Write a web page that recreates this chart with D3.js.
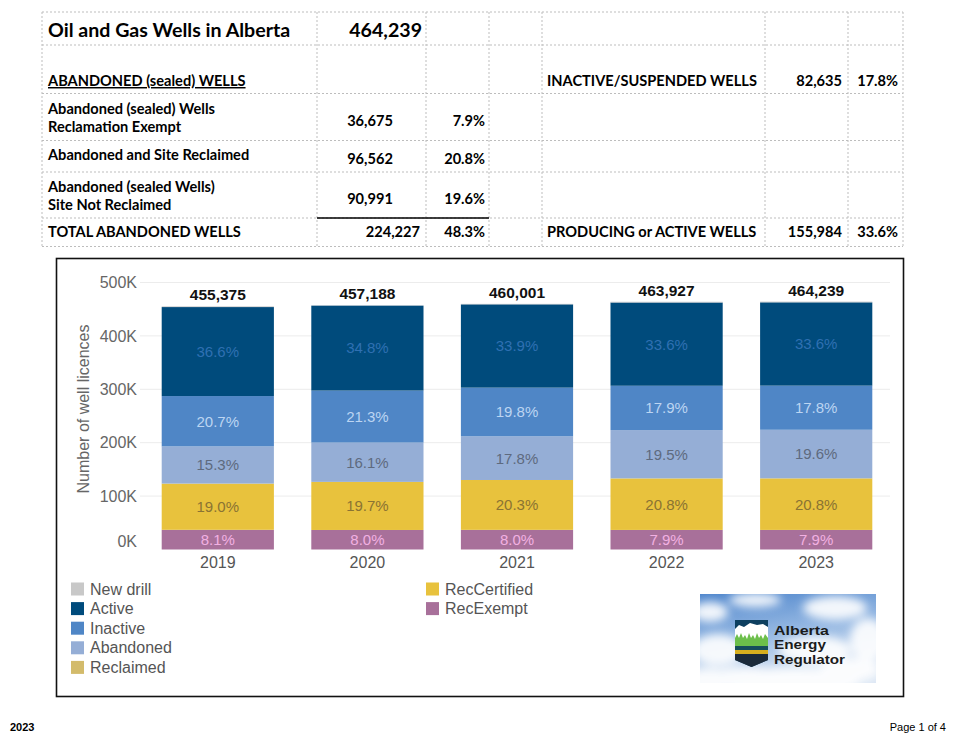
<!DOCTYPE html>
<html>
<head>
<meta charset="utf-8">
<script src="https://d3js.org/d3.v7.min.js"></script>
<style>
  body { margin: 0; background: #fff; }
  text { font-family: "Liberation Sans", Arial, sans-serif; }
  .tbl { font-family: Lato, "Liberation Sans", sans-serif; font-weight: bold; fill: #000; }
</style>
</head>
<body>
<div id="page"></div>
<script>
// ---- chart data ----
const years = ["2019", "2020", "2021", "2022", "2023"];
const totals = [455375, 457188, 460001, 463927, 464239];
const recExempt    = [36885, 36575, 36800, 36650, 36675];
const recCertified = [86521, 90066, 93380, 96497, 96562];
const reclaimed    = [0, 0, 0, 0, 0];
const abandoned    = [69672, 73607, 81880, 90466, 90991];
const inactive     = [94263, 97381, 91080, 83043, 82635];
const active       = [166667, 159101, 155940, 155880, 155984];
const newDrill     = [1367, 458, 921, 1391, 1392];

// percent labels shown in the bars
const pctRecExempt    = [8.1, 8.0, 8.0, 7.9, 7.9];
const pctRecCertified = [19.0, 19.7, 20.3, 20.8, 20.8];
const pctAbandoned    = [15.3, 16.1, 17.8, 19.5, 19.6];
const pctInactive     = [20.7, 21.3, 19.8, 17.9, 17.8];
const pctActive       = [36.6, 34.8, 33.9, 33.6, 33.6];

const yTicks = [0, 100000, 200000, 300000, 400000, 500000];

// legend order
const legendLeft = ["New drill", "Active", "Inactive", "Abandoned", "Reclaimed"];
const legendRight = ["RecCertified", "RecExempt"];

// ---- table data ----
const tableTitle = "Oil and Gas Wells in Alberta";
const tableTotal = "464,239";
const abandonedRows = [
  { label: ["Abandoned (sealed) Wells", "Reclamation Exempt"], value: "36,675", pct: "7.9%" },
  { label: ["Abandoned and Site Reclaimed"], value: "96,562", pct: "20.8%" },
  { label: ["Abandoned (sealed Wells)", "Site Not Reclaimed"], value: "90,991", pct: "19.6%" }
];
const totalAbandoned = { label: "TOTAL ABANDONED WELLS", value: "224,227", pct: "48.3%" };
const inactiveRow = { label: "INACTIVE/SUSPENDED WELLS", value: "82,635", pct: "17.8%" };
const producingRow = { label: "PRODUCING or ACTIVE WELLS", value: "155,984", pct: "33.6%" };

// colours
const colors = {
  "New drill": "#c8c8c8",
  "Active": "#004b7c",
  "Inactive": "#4f86c6",
  "Abandoned": "#95aed6",
  "Reclaimed": "#d3bb6b",
  "RecCertified": "#e8c23d",
  "RecExempt": "#a8709a"
};
const labelColors = {
  "Active": "#2f70b2",
  "Inactive": "#bcd5f2",
  "Abandoned": "#5e6a7e",
  "RecCertified": "#8a7333",
  "RecExempt": "#f2b0e2"
};

const W = 958, H = 743;
const svg = d3.select("#page").append("svg")
  .attr("width", W).attr("height", H)
  .style("display", "block");
svg.append("rect").attr("width", W).attr("height", H).attr("fill", "#fff");

// ================= TABLE =================
const colX = [42, 317, 426, 489, 542, 765, 848, 903];
const rowY = [12, 45, 93.5, 140.5, 172, 218, 246.5];
const grid = svg.append("g");
colX.forEach(x => grid.append("line")
  .attr("x1", x).attr("x2", x).attr("y1", rowY[0]).attr("y2", rowY[rowY.length - 1])
  .attr("stroke", "#bdbdbd").attr("stroke-dasharray", "2,2"));
rowY.forEach(y => grid.append("line")
  .attr("x1", colX[0]).attr("x2", colX[colX.length - 1]).attr("y1", y).attr("y2", y)
  .attr("stroke", "#bdbdbd").attr("stroke-dasharray", "2,2"));
// solid rule above the totals
grid.append("line").attr("x1", 317).attr("x2", 489).attr("y1", 218).attr("y2", 218)
  .attr("stroke", "#000").attr("stroke-width", 1.5);

const tbl = svg.append("g");
const fs = 14.6, fsTitle = 19.6;
const tText = (x, y, s, size, anchor) => tbl.append("text").attr("class", "tbl")
  .attr("x", x).attr("y", y).attr("font-size", size)
  .attr("text-anchor", anchor || "start").text(s);

tText(48, 36.5, tableTitle, fsTitle);
tText(422, 36.5, tableTotal, fsTitle, "end");
tText(48, 86, "ABANDONED (sealed) WELLS", fs).style("text-decoration", "underline");
tText(547, 86, inactiveRow.label, fs);
tText(842, 86, inactiveRow.value, fs, "end");
tText(898, 86, inactiveRow.pct, fs, "end");

const rowMid = [117.5, 156, 196];
abandonedRows.forEach((r, i) => {
  if (r.label.length === 2) {
    tText(48, rowMid[i] - 4, r.label[0], fs);
    tText(48, rowMid[i] + 14, r.label[1], fs);
  } else {
    tText(48, rowMid[i] + 4, r.label[0], fs);
  }
  tText(370, rowMid[i] + 8, r.value, fs, "middle");
  tText(485, rowMid[i] + 8, r.pct, fs, "end");
});
tText(48, 237, totalAbandoned.label, fs);
tText(420, 237, totalAbandoned.value, fs, "end");
tText(485, 237, totalAbandoned.pct, fs, "end");
tText(547, 237, producingRow.label, fs);
tText(842, 237, producingRow.value, fs, "end");
tText(898, 237, producingRow.pct, fs, "end");

// ================= CHART =================
svg.append("rect").attr("x", 56.5).attr("y", 258.5).attr("width", 847).attr("height", 438)
  .attr("fill", "#fff").attr("stroke", "#111").attr("stroke-width", 1.6);

const x = d3.scaleBand().domain(years).range([143, 891]).paddingInner(0.25).paddingOuter(0.125);
const y = d3.scaleLinear().domain([0, 500000]).range([549.5, 282.5]);

// gridlines
svg.append("g").selectAll("line").data(yTicks.filter(d => d > 0)).join("line")
  .attr("x1", 140).attr("x2", 890)
  .attr("y1", d => y(d)).attr("y2", d => y(d))
  .attr("stroke", "#ececec");

// y axis
const yAxis = svg.append("g").attr("transform", "translate(140,0)")
  .call(d3.axisLeft(y).tickValues(yTicks).tickSize(0).tickPadding(3)
    .tickFormat(d => (d / 1000) + "K"));
yAxis.select(".domain").remove();
yAxis.selectAll("text").attr("font-size", 16).attr("fill", "#666")
  .attr("font-family", "'Liberation Sans', Arial, sans-serif")
  .attr("dy", d => d === 0 ? "-0.2em" : "0.32em");

svg.append("text").attr("transform", "translate(89,409) rotate(-90)")
  .attr("text-anchor", "middle").attr("font-size", 16).attr("fill", "#666")
  .text("Number of well licences");

// stacked bars
const rows = years.map((yr, i) => ({
  year: yr,
  "RecExempt": recExempt[i],
  "RecCertified": recCertified[i],
  "Reclaimed": reclaimed[i],
  "Abandoned": abandoned[i],
  "Inactive": inactive[i],
  "Active": active[i],
  "New drill": newDrill[i]
}));
const keys = ["RecExempt", "RecCertified", "Reclaimed", "Abandoned", "Inactive", "Active", "New drill"];
const series = d3.stack().keys(keys)(rows);

const barG = svg.append("g");
series.forEach(s => {
  barG.selectAll(null).data(s).join("rect")
    .attr("x", d => x(d.data.year))
    .attr("width", x.bandwidth())
    .attr("y", d => y(d[1]))
    .attr("height", d => Math.max(0, y(d[0]) - y(d[1])))
    .attr("fill", colors[s.key]);
});

// percent labels
const pcts = {
  "RecExempt": pctRecExempt,
  "RecCertified": pctRecCertified,
  "Abandoned": pctAbandoned,
  "Inactive": pctInactive,
  "Active": pctActive
};
series.filter(s => pcts[s.key]).forEach(s => {
  barG.selectAll(null).data(s).join("text")
    .attr("x", d => x(d.data.year) + x.bandwidth() / 2)
    .attr("y", d => (y(d[0]) + y(d[1])) / 2)
    .attr("dy", "0.36em")
    .attr("text-anchor", "middle")
    .attr("font-size", 15)
    .attr("fill", labelColors[s.key])
    .text((d, i) => pcts[s.key][i].toFixed(1) + "%");
});

// totals
barG.selectAll(null).data(years).join("text")
  .attr("x", d => x(d) + x.bandwidth() / 2)
  .attr("y", (d, i) => y(totals[i]) - 6)
  .attr("text-anchor", "middle")
  .attr("font-size", 15.5).attr("font-weight", "bold").attr("fill", "#111")
  .text((d, i) => d3.format(",")(totals[i]));

// x labels
svg.append("g").selectAll("text").data(years).join("text")
  .attr("x", d => x(d) + x.bandwidth() / 2)
  .attr("y", 568)
  .attr("text-anchor", "middle")
  .attr("font-size", 16).attr("fill", "#555")
  .text(d => d);

// legend
const legend = svg.append("g");
const legItem = (name, lx, ly) => {
  legend.append("rect").attr("x", lx).attr("y", ly - 6.5).attr("width", 13).attr("height", 13)
    .attr("fill", colors[name]);
  legend.append("text").attr("x", lx + 19).attr("y", ly + 5.5)
    .attr("font-size", 16).attr("fill", "#555").text(name);
};
legendLeft.forEach((n, i) => legItem(n, 71, 589 + i * 19.6));
legendRight.forEach((n, i) => legItem(n, 426, 589 + i * 19.6));

// ================= LOGO =================
const defs = svg.append("defs");
const sky = defs.append("linearGradient").attr("id", "sky").attr("x1", 0).attr("y1", 0).attr("x2", 0.3).attr("y2", 1);
sky.append("stop").attr("offset", "0%").attr("stop-color", "#4f86cc");
sky.append("stop").attr("offset", "50%").attr("stop-color", "#94b7e2");
sky.append("stop").attr("offset", "100%").attr("stop-color", "#dbe6f4");
defs.append("filter").attr("id", "blur").append("feGaussianBlur").attr("stdDeviation", 5);
defs.append("clipPath").attr("id", "logoClip").append("rect")
  .attr("x", 700).attr("y", 594).attr("width", 176).attr("height", 89);
const shieldPath = "M735,620 L768,620 L768,660 L751.5,667 L735,660 Z";
defs.append("clipPath").attr("id", "shieldClip").append("path").attr("d", shieldPath);

const logo = svg.append("g").attr("clip-path", "url(#logoClip)");
logo.append("rect").attr("x", 700).attr("y", 594).attr("width", 176).attr("height", 89).attr("fill", "url(#sky)");
const clouds = logo.append("g").attr("filter", "url(#blur)").attr("fill", "#fff").attr("opacity", 0.9);
[[710, 612, 18, 10], [755, 600, 26, 7], [835, 608, 32, 12], [868, 640, 18, 22],
 [718, 650, 26, 16], [790, 682, 70, 14], [708, 680, 28, 12], [815, 650, 36, 14],
 [745, 675, 30, 8], [850, 670, 30, 12]]
  .forEach(c => clouds.append("ellipse").attr("cx", c[0]).attr("cy", c[1]).attr("rx", c[2]).attr("ry", c[3]));

const shield = logo.append("g").attr("clip-path", "url(#shieldClip)");
shield.append("rect").attr("x", 735).attr("y", 620).attr("width", 33).attr("height", 48).attr("fill", "#0d3f5f");
shield.append("path").attr("d", "M735,642 L735,629 L739,625 L744,627 L750,623 L757,625 L763,624 L768,627 L768,642 Z").attr("fill", "#fff");
shield.append("path").attr("d", "M735,647 L735,638 L737,634 L739,638 L741,633 L743,638 L745,635 L747,639 L749,633 L751,638 L753,635 L755,639 L757,633 L759,638 L761,635 L763,639 L765,634 L768,638 L768,647 Z").attr("fill", "#6cbf4b");
shield.append("rect").attr("x", 735).attr("y", 646).attr("width", 33).attr("height", 4).attr("fill", "#164e5c");
shield.append("rect").attr("x", 735).attr("y", 650).attr("width", 33).attr("height", 4).attr("fill", "#d6ae1e");
shield.append("rect").attr("x", 735).attr("y", 654).attr("width", 33).attr("height", 14).attr("fill", "#1b2a3a");

const logoWords = ["Alberta", "Energy", "Regulator"];
const logoWidths = [55, 52, 71];
logoWords.forEach((t, i) => {
  logo.append("text").attr("x", 774).attr("y", 634.5 + i * 14.5)
    .attr("font-size", 13).attr("font-weight", "bold").attr("fill", "#1b1b1b")
    .attr("textLength", logoWidths[i]).attr("lengthAdjust", "spacingAndGlyphs")
    .text(t);
});

// ================= FOOTER =================
svg.append("text").attr("x", 10).attr("y", 731).attr("font-size", 11).attr("font-weight", "bold")
  .attr("font-family", "Lato, sans-serif").attr("fill", "#000").text("2023");
svg.append("text").attr("x", 946).attr("y", 731).attr("font-size", 11).attr("text-anchor", "end")
  .attr("font-family", "Lato, sans-serif").attr("fill", "#000").text("Page 1 of 4");
</script>
</body>
</html>
